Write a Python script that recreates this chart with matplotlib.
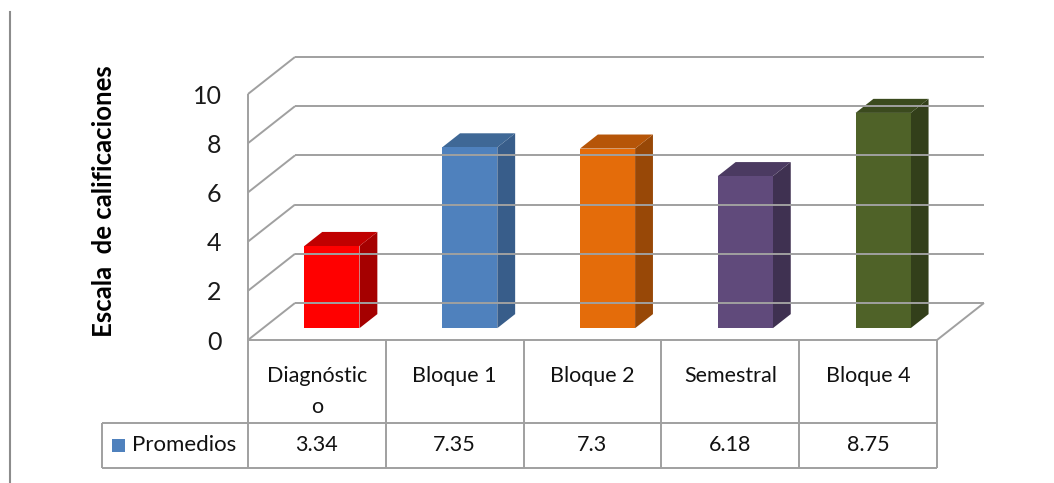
import matplotlib.pyplot as plt
from matplotlib.patches import Polygon, Rectangle

plt.rcParams['font.family'] = ['Lato', 'DejaVu Sans']

categorias = ["Diagnóstic\no", "Bloque 1", "Bloque 2", "Semestral", "Bloque 4"]
promedios = [3.34, 7.35, 7.3, 6.18, 8.75]
etiquetas_valor = ["3.34", "7.35", "7.3", "6.18", "8.75"]
serie = "Promedios"
yticks = [0, 2, 4, 6, 8, 10]

# front face, side face, top face colours for each column
colores = [
    ("#FF0000", "#A50000", "#C00000"),
    ("#4F81BD", "#385D8A", "#3F6896"),
    ("#E46C0A", "#984807", "#B65508"),
    ("#604A7B", "#3F3151", "#4B3A61"),
    ("#4F6228", "#333F1A", "#3B4A1E"),
]

GRID = "#A0A0A0"
DX, DY = 0.341, 1.504          # full depth offset of the 3d box (data units)
BAR_W = 0.40
F0, F1 = 0.32, 0.70            # depth fraction of bar front / back
PX_X, PX_Y = 137.8, 24.6       # pixels per data unit

W, H = 1054, 483
fig = plt.figure(figsize=(W / 100, H / 100), dpi=100)
ax = fig.add_axes([248 / W, (H - 340) / H, 689 / W, 246 / H])
ax.set_xlim(0, 5)
ax.set_ylim(0, 10)
for s in ax.spines.values():
    s.set_visible(False)
ax.set_xticks([])
ax.set_yticks(yticks)
ax.set_yticklabels([str(t) for t in yticks], fontsize=18, color="#1a1a1a")
ax.tick_params(axis="y", length=0, pad=19)
ax.set_ylabel("Escala  de calificaciones", fontsize=18.5, fontweight="bold")
ax.yaxis.set_label_coords(-0.192, 0.565)

kw = dict(color=GRID, lw=1.4, clip_on=False, solid_capstyle="butt")

# walls and gridlines
for v in yticks:
    ax.plot([DX, 5 + DX], [v + DY, v + DY], **kw)
    ax.plot([0, DX], [v, v + DY], **kw)
ax.plot([0, 0], [0, 10], **kw)
ax.plot([5, 5 + DX], [0, DY], **kw)

# 3d columns
for i, (v, (cf, cs, ct)) in enumerate(zip(promedios, colores)):
    x0 = i + 0.5 - BAR_W / 2 + F0 * DX
    x1 = x0 + BAR_W
    y0 = F0 * DY
    ddx, ddy = (F1 - F0) * DX, (F1 - F0) * DY
    ax.add_patch(Polygon([(x1, y0), (x1, y0 + v), (x1 + ddx, y0 + v + ddy), (x1 + ddx, y0 + ddy)],
                         closed=True, fc=cs, ec="none", clip_on=False))
    ax.add_patch(Polygon([(x0, y0 + v), (x1, y0 + v), (x1 + ddx, y0 + v + ddy), (x0 + ddx, y0 + v + ddy)],
                         closed=True, fc=ct, ec="none", clip_on=False))
    ax.add_patch(Rectangle((x0, y0), BAR_W, v, fc=cf, ec="none", clip_on=False))

# data table under the plot
r1, r2 = -83 / PX_Y, -128 / PX_Y
xl = -146 / PX_X
ym = (r1 + r2) / 2
ax.plot([0, 5], [0, 0], **kw)
ax.plot([xl, 5], [r1, r1], **kw)
ax.plot([xl, 5], [r2, r2], **kw)
ax.plot([xl, xl], [r1, r2], **kw)
for k in range(6):
    ax.plot([k, k], [0, r2], **kw)

for i, (c, lab) in enumerate(zip(categorias, etiquetas_valor)):
    for j, linea in enumerate(c.split("\n")):
        ax.text(i + 0.5, (-36 - 31 * j) / PX_Y, linea, ha="center", va="center",
                fontsize=15.5, color="#111111", clip_on=False)
    ax.text(i + 0.5, ym, lab, ha="center", va="center",
            fontsize=15.5, color="#111111", clip_on=False)

ax.add_patch(Rectangle((-136 / PX_X, ym - 6.5 / PX_Y), 13 / PX_X, 13 / PX_Y,
                       fc="#4F81BD", ec="none", clip_on=False))
ax.text(-116 / PX_X, ym, serie, ha="left", va="center",
        fontsize=16, color="#111111", clip_on=False)

# frame line on the left of the picture
fig.add_artist(plt.Line2D([10 / W, 10 / W], [0, 1 - 12 / H], color="#8C8C8C", lw=1.5))

fig.savefig("out.png", dpi=100)
